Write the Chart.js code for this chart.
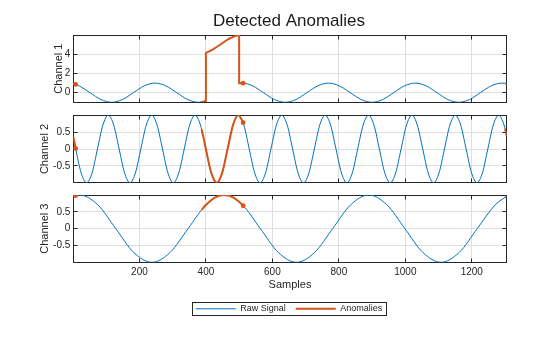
<!DOCTYPE html>
<html>
<head>
<meta charset="utf-8">
<title>Detected Anomalies</title>
<script src="https://cdn.jsdelivr.net/npm/chart.js@4.4.1/dist/chart.umd.min.js"></script>
<style>
  html, body { margin: 0; padding: 0; background: #fff; }
  body { width: 560px; height: 337px; overflow: hidden; position: relative; }
  .panel { position: absolute; left: 0; width: 578px; }
</style>
</head>
<body>
<div class="panel" style="top:0;height:115px"><canvas id="c1"></canvas></div>
<div class="panel" style="top:105px;height:90px"><canvas id="c2"></canvas></div>
<div class="panel" style="top:185px;height:152px"><canvas id="c3"></canvas></div>
<script>
// ---- data: sample index / signal value pairs for each channel ----
const ch1Samples = [1, 18.6, 51.3, 83.9, 116.5, 149.1, 181.8, 214.4, 247, 279.6, 312.3, 344.9, 377.5, 400, 400,
  500, 508, 540.6, 573.3, 605.9, 638.5, 671.1, 703.8, 736.4, 769, 801.6, 834.3, 866.9, 899.5, 932.1, 964.8,
  997.4, 1030, 1062.6, 1095.3, 1127.9, 1160.5, 1193.1, 1225.8, 1258.4, 1291, 1305];
const ch1Values = [0.94, 0.71, 0, -0.71, -1, -0.71, 0, 0.71, 1, 0.71, 0, -0.71, -1, -0.86, null,
  0.98, 1, 0.71, 0, -0.71, -1, -0.71, 0, 0.71, 1, 0.71, 0, -0.71, -1, -0.71, 0,
  0.71, 1, 0.71, 0, -0.71, -1, -0.71, 0, 0.71, 1, 0.94];

const ch1AnomSamples = [1, 8, 8, 387, 393, 400, 400, 410, 420, 430, 440, 450, 460, 470, 480, 490, 500, 500, 508, 512, 512, 1300, 1305];
const ch1AnomValues = [0.94, 0.86, null, -0.97, -0.93, -0.86, 4.14, 4.29, 4.48, 4.70, 4.93, 5.17, 5.40, 5.61, 5.78, 5.91, 5.98, 0.98, 1, 0.99, null, 0.98, 0.94];

const ch2Samples = [1,
  8.4, 24.7, 41.1, 57.4, 73.7, 90.0, 106.3, 122.6,
  138.9, 155.2, 171.6, 187.9, 204.2, 220.5, 236.8, 253.1,
  269.4, 285.7, 302.1, 318.4, 334.7, 351.0, 367.3, 383.6,
  399.9, 416.2, 432.6, 448.9, 465.2, 481.5, 497.8, 514.1,
  530.4, 546.7, 563.1, 579.4, 595.7, 612.0, 628.3, 644.6,
  660.9, 677.2, 693.6, 709.9, 726.2, 742.5, 758.8, 775.1,
  791.4, 807.7, 824.1, 840.4, 856.7, 873.0, 889.3, 905.6,
  921.9, 938.2, 954.6, 970.9, 987.2, 1003.5, 1019.8, 1036.1,
  1052.4, 1068.7, 1085.1, 1101.4, 1117.7, 1134.0, 1150.3, 1166.6,
  1182.9, 1199.2, 1215.6, 1231.9, 1248.2, 1264.5, 1280.8, 1297.1,
  1305];
const ch2Values = [0.36,
  0, -0.71, -1, -0.71, 0, 0.71, 1, 0.71,
  0, -0.71, -1, -0.71, 0, 0.71, 1, 0.71,
  0, -0.71, -1, -0.71, 0, 0.71, 1, 0.71,
  0, -0.71, -1, -0.71, 0, 0.71, 1, 0.71,
  0, -0.71, -1, -0.71, 0, 0.71, 1, 0.71,
  0, -0.71, -1, -0.71, 0, 0.71, 1, 0.71,
  0, -0.71, -1, -0.71, 0, 0.71, 1, 0.71,
  0, -0.71, -1, -0.71, 0, 0.71, 1, 0.71,
  0, -0.71, -1, -0.71, 0, 0.71, 1, 0.71,
  0, -0.71, -1, -0.71, 0, 0.71, 1, 0.71,
  0.39];

const ch2AnomSamples = [1, 8, 8, 387, 393, 399.9, 416.2, 432.6, 448.9, 465.2, 481.5, 497.8, 512, 512, 1300, 1305];
const ch2AnomValues = [0.36, 0.02, null, 0.58, 0.33, 0, -0.71, -1, -0.71, 0, 0.71, 1, 0.78, null, 0.59, 0.39];

const ch3Samples = [1, 20, 74.4, 128.8, 183.1, 237.5, 291.9, 346.3, 400.6, 455, 509.4, 563.8, 618.1,
  672.5, 726.9, 781.3, 835.6, 890, 944.4, 998.8, 1053.1, 1107.5, 1161.9, 1216.3, 1270.6, 1305];
const ch3Values = [0.96, 1, 0.71, 0, -0.71, -1, -0.71, 0, 0.71, 1, 0.71, 0, -0.71,
  -1, -0.71, 0, 0.71, 1, 0.71, 0, -0.71, -1, -0.71, 0, 0.71, 0.96];

const ch3AnomSamples = [1, 8, 8, 387, 400.6, 428, 455, 482, 509.4, 512, 512, 1300, 1305];
const ch3AnomValues = [0.96, 0.98, null, 0.56, 0.71, 0.93, 1, 0.93, 0.71, 0.68, null, 0.94, 0.96];

// samples where the anomaly trace carries a dot marker
const markerSamples = [8, 512];

// axis ticks
const sampleTicks = [200, 400, 600, 800, 1000, 1200];
const ch1Ticks = [0, 2, 4];
const ch23Ticks = [-0.5, 0, 0.5];

// ---- styling ----
const COLORS = { raw: '#0072BD', anomaly: '#D95319', axis: '#262626', grid: '#dfdfdf' };
Chart.defaults.font.family = '"Liberation Sans", Arial, Helvetica, sans-serif';
Chart.defaults.color = COLORS.axis;

const Y_BAND = 73.3;      // width of the left axis band
const RIGHT_BAND = 71.3;  // right band, keeps the legend centred under the plots

function toPoints(samples, values) {
  return samples.map((s, i) => ({ x: s, y: values[i] }));
}

function align(p) { return Math.round(p - 0.5) + 0.5; }

// box around the plot area with inward tick marks on all four sides
const axesBox = {
  id: 'axesBox',
  beforeDatasetsDraw(chart) {
    const { ctx, chartArea: a } = chart;
    const x = chart.scales.x, y = chart.scales.y;
    const L = align(a.left), R = align(a.right), T = align(a.top), B = align(a.bottom);
    const len = 4;
    ctx.save();
    ctx.strokeStyle = COLORS.axis;
    ctx.lineWidth = 1;
    ctx.beginPath();
    x.ticks.forEach(t => {
      const px = align(x.getPixelForValue(t.value));
      ctx.moveTo(px, B); ctx.lineTo(px, B - len);
      ctx.moveTo(px, T); ctx.lineTo(px, T + len);
    });
    y.ticks.forEach(t => {
      const py = align(y.getPixelForValue(t.value));
      ctx.moveTo(L, py); ctx.lineTo(L + len, py);
      ctx.moveTo(R, py); ctx.lineTo(R - len, py);
    });
    ctx.stroke();
    ctx.strokeRect(L, T, R - L, B - T);
    ctx.restore();
  }
};

// thin frame around the legend entries
const legendFrame = {
  id: 'legendFrame',
  afterDraw(chart) {
    const lg = chart.legend;
    if (!lg || !lg.options.display || !lg.legendHitBoxes || !lg.legendHitBoxes.length) return;
    const hb = lg.legendHitBoxes;
    const last = hb[hb.length - 1];
    const l = hb[0].left - 3, r = last.left + last.width + 4;
    const t = hb[0].top - 2, b = hb[0].top + hb[0].height + 2;
    const ctx = chart.ctx;
    ctx.save();
    ctx.strokeStyle = COLORS.axis;
    ctx.lineWidth = 1;
    ctx.strokeRect(align(l), align(t), Math.round(r - l), Math.round(b - t));
    ctx.restore();
  }
};

const markerRadius = ctx => {
  const r = ctx.raw;
  return (r && r.y !== null && markerSamples.includes(r.x)) ? 1.4 : 0;
};

function makePanel(id, o) {
  const anomaly = {
    label: 'Anomalies',
    data: toPoints(o.anomSamples, o.anomValues),
    borderColor: COLORS.anomaly,
    backgroundColor: COLORS.anomaly,
    borderWidth: 2,
    pointRadius: markerRadius,
    pointHoverRadius: 0,
    pointBorderWidth: 2,
    pointBorderColor: COLORS.anomaly,
    pointBackgroundColor: COLORS.anomaly,
    order: 1,
    yAxisID: 'y', xAxisID: 'x'
  };
  if (o.smoothAnomaly) anomaly.cubicInterpolationMode = 'monotone';
  else anomaly.tension = 0;

  return new Chart(document.getElementById(id), {
    type: 'line',
    data: {
      datasets: [
        {
          label: 'Raw Signal',
          data: toPoints(o.samples, o.values),
          borderColor: COLORS.raw,
          backgroundColor: COLORS.raw,
          borderWidth: 1,
          pointRadius: 0,
          pointHoverRadius: 0,
          pointBorderWidth: 1,
          pointBorderColor: COLORS.raw,
          cubicInterpolationMode: 'monotone',
          order: 2,
          yAxisID: 'y', xAxisID: 'x'
        },
        anomaly
      ]
    },
    options: {
      responsive: true,
      maintainAspectRatio: false,
      animation: false,
      events: [],
      layout: { padding: { left: 0, right: 0, top: o.padTop, bottom: o.padBottom } },
      scales: {
        x: {
          type: 'linear',
          min: 1, max: 1305,
          afterBuildTicks: s => { s.ticks = sampleTicks.map(v => ({ value: v })); },
          afterFit: s => { s.height = o.xBand; },
          grid: { color: COLORS.grid, drawTicks: false },
          border: { display: false },
          ticks: {
            display: o.showX,
            maxRotation: 0,
            autoSkip: false,
            padding: 3.9,
            font: { size: 10 },
            color: COLORS.axis,
            callback: v => String(v)
          },
          title: {
            display: o.showX,
            text: 'Samples',
            font: { size: 11 },
            color: COLORS.axis,
            padding: { top: 0, bottom: 2.7 }
          }
        },
        y: {
          type: 'linear',
          position: 'left',
          min: o.yMin, max: o.yMax,
          afterBuildTicks: s => { s.ticks = o.yTicks.map(v => ({ value: v })); },
          afterFit: s => { s.width = Y_BAND; },
          grid: { color: COLORS.grid, drawTicks: false },
          border: { display: false },
          ticks: { padding: 3, font: { size: 10 }, color: COLORS.axis, callback: v => String(v) },
          title: {
            display: true,
            text: o.yTitle,
            font: { size: 11 },
            color: COLORS.axis,
            padding: { top: o.yTitleOffset, bottom: 0 }
          }
        },
        yRight: {
          type: 'linear',
          position: 'right',
          min: 0, max: 1,
          afterFit: s => { s.width = RIGHT_BAND; },
          grid: { display: false },
          border: { display: false },
          ticks: { display: false }
        }
      },
      plugins: {
        tooltip: { enabled: false },
        title: o.title ? {
          display: true,
          text: o.title,
          font: { size: 17, weight: 'normal' },
          color: '#1a1a1a',
          padding: { top: 11.5, bottom: 3.1 }
        } : { display: false },
        legend: o.legend ? {
          display: true,
          position: 'bottom',
          labels: {
            usePointStyle: true,
            pointStyle: 'line',
            pointStyleWidth: 40,
            padding: 10,
            font: { size: 9 },
            color: COLORS.axis,
            sort: (a, b) => a.datasetIndex - b.datasetIndex
          }
        } : { display: false }
      }
    },
    plugins: [axesBox, legendFrame]
  });
}

makePanel('c1', {
  samples: ch1Samples, values: ch1Values,
  anomSamples: ch1AnomSamples, anomValues: ch1AnomValues, smoothAnomaly: false,
  yMin: -1, yMax: 6, yTicks: ch1Ticks, yTitle: 'Channel 1', yTitleOffset: 52.7,
  title: 'Detected Anomalies', legend: false, showX: false, xBand: 0,
  padTop: 0, padBottom: 12.7
});

makePanel('c2', {
  samples: ch2Samples, values: ch2Values,
  anomSamples: ch2AnomSamples, anomValues: ch2AnomValues, smoothAnomaly: true,
  yMin: -1, yMax: 1, yTicks: ch23Ticks, yTitle: 'Channel 2', yTitleOffset: 38.7,
  title: null, legend: false, showX: false, xBand: 0,
  padTop: 10.3, padBottom: 12.3
});

makePanel('c3', {
  samples: ch3Samples, values: ch3Values,
  anomSamples: ch3AnomSamples, anomValues: ch3AnomValues, smoothAnomaly: true,
  yMin: -1, yMax: 1, yTicks: ch23Ticks, yTitle: 'Channel 3', yTitleOffset: 38.7,
  title: null, legend: true, showX: true, xBand: 32,
  padTop: 10, padBottom: 13.7
});
</script>
</body>
</html>
